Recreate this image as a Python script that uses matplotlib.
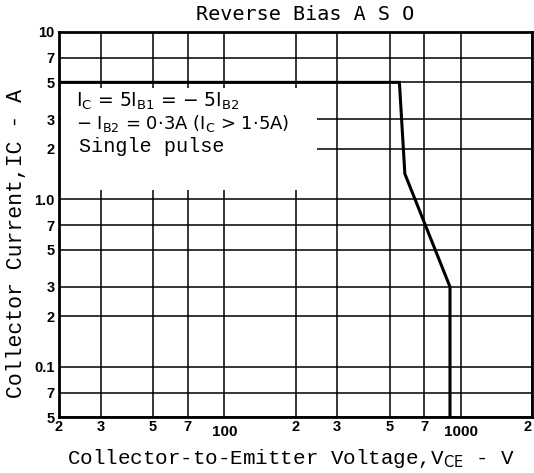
import matplotlib
matplotlib.use("Agg")
import matplotlib.pyplot as plt
from matplotlib.patches import Rectangle
from matplotlib.ticker import FixedLocator, FixedFormatter, NullLocator

# ---- data ----
x_ticks = [20, 30, 50, 70, 100, 200, 300, 500, 700, 1000, 2000]
x_labels = ["2", "3", "5", "7", "100", "2", "3", "5", "7", "1000", "2"]
y_ticks = [10, 7, 5, 3, 2, 1.0, 0.7, 0.5, 0.3, 0.2, 0.1, 0.07, 0.05]
y_labels = ["10", "7", "5", "3", "2", "1.0", "7", "5", "3", "2", "0.1", "7", "5"]
aso_v = [20, 550, 580, 900, 900]
aso_i = [5.0, 5.0, 1.42, 0.3, 0.05]

plt.rcParams['mathtext.fontset'] = 'dejavusans'
fig = plt.figure(figsize=(5.34, 4.73), dpi=100)
ax = fig.add_axes([59/534, 1-417/473, 473/534, 385/473])
ax.set_xscale('log')
ax.set_yscale('log')
ax.set_xlim(20, 2000)
ax.set_ylim(0.05, 10)

ax.xaxis.set_major_locator(FixedLocator(x_ticks))
ax.xaxis.set_major_formatter(FixedFormatter(x_labels))
ax.xaxis.set_minor_locator(NullLocator())
ax.yaxis.set_major_locator(FixedLocator(y_ticks))
ax.yaxis.set_major_formatter(FixedFormatter(y_labels))
ax.yaxis.set_minor_locator(NullLocator())

ax.grid(True, which='major', color='black', linewidth=1.1, zorder=1)
ax.tick_params(axis='x', length=0, labelsize=10.5, pad=2)
ax.tick_params(axis='y', length=0, labelsize=10.5, pad=3)
for lab in ax.get_xticklabels() + ax.get_yticklabels():
    lab.set_fontweight('bold')
    lab.set_family('Liberation Sans')
xtl = ax.get_xticklabels()
for t, lab, txt in zip(ax.xaxis.get_major_ticks(), xtl, x_labels):
    if txt in ("100", "1000"):
        t.set_pad(6)
        lab.set_fontsize(11)
xtl[-1].set_horizontalalignment('right')
for s in ax.spines.values():
    s.set_linewidth(2)

# white text area
ax.add_patch(Rectangle((0.004, 0.59), 0.541, 0.265, transform=ax.transAxes,
                       facecolor='white', edgecolor='none', zorder=2))

ax.plot(aso_v, aso_i, color='black', linewidth=2.2, zorder=4, solid_joinstyle='miter')

tx = (76 - 59) / 473
ax.text(tx, 1-(101-32)/385, "I$_{\\mathrm{C}}$ = 5I$_{\\mathrm{B1}}$ = − 5I$_{\\mathrm{B2}}$",
        transform=ax.transAxes, family='DejaVu Sans',
        fontsize=13.5, va='center', ha='left', zorder=5)
ax.text(tx, 1-(124-32)/385, "− I$_{\\mathrm{B2}}$ = 0·3A (I$_{\\mathrm{C}}$ > 1·5A)",
        transform=ax.transAxes, family='DejaVu Sans',
        fontsize=13, va='center', ha='left', zorder=5)
ax.text(tx + 3/473, 1-(147-32)/385, "Single pulse", transform=ax.transAxes,
        family='Liberation Mono', fontsize=14.5, va='center', ha='left', zorder=5)

fig.text(305/534, 1-15/473, "Reverse Bias A S O", family='DejaVu Sans Mono',
         fontsize=14.5, ha='center', va='center')
fig.text(291/534, 1-458/473, r"Collector-to-Emitter Voltage,V$_{\mathrm{CE}}$ - V",
         family='Liberation Mono', fontsize=15, ha='center', va='center')
fig.text(17/534, 1-243/473, "Collector Current,IC - A", family='Liberation Mono',
         fontsize=15.5, ha='center', va='center', rotation=90)

fig.savefig("out.png", dpi=100)
